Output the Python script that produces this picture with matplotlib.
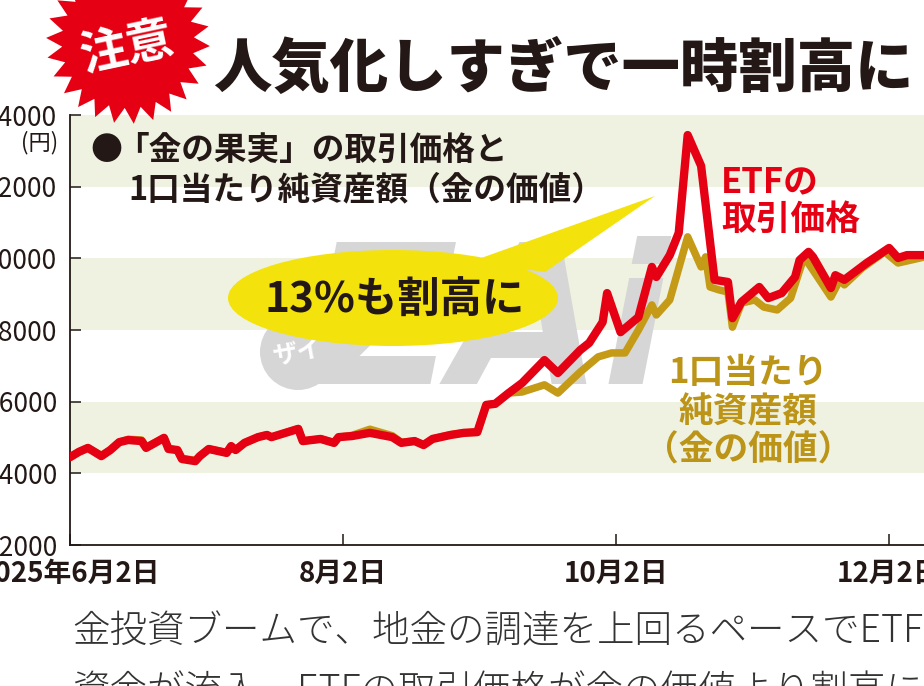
import numpy as np
import matplotlib
matplotlib.use('Agg')
import matplotlib.pyplot as plt
import matplotlib.dates as mdates
from matplotlib.patches import Ellipse, Polygon, Circle

plt.rcParams['font.family'] = ['Noto Sans CJK JP', 'DejaVu Sans']

# ---------------- data ----------------
etf_dates = ['2025-06-02', '2025-06-04', '2025-06-06', '2025-06-09', '2025-06-11', '2025-06-13', '2025-06-15',
             '2025-06-18', '2025-06-19', '2025-06-23', '2025-06-24', '2025-06-26', '2025-06-27', '2025-06-30',
             '2025-07-01', '2025-07-03', '2025-07-07', '2025-07-08', '2025-07-09', '2025-07-11', '2025-07-14',
             '2025-07-16', '2025-07-17', '2025-07-23', '2025-07-24', '2025-07-28', '2025-07-31',
             '2025-08-01', '2025-08-04', '2025-08-08', '2025-08-13', '2025-08-15', '2025-08-18', '2025-08-20',
             '2025-08-22', '2025-08-26', '2025-08-29',
             '2025-09-01', '2025-09-03', '2025-09-05', '2025-09-08', '2025-09-11', '2025-09-16', '2025-09-19',
             '2025-09-24', '2025-09-26', '2025-09-29', '2025-09-30',
             '2025-10-03', '2025-10-07', '2025-10-10', '2025-10-11', '2025-10-14', '2025-10-16', '2025-10-18',
             '2025-10-21', '2025-10-24', '2025-10-27', '2025-10-28', '2025-10-30',
             '2025-11-03', '2025-11-05', '2025-11-08', '2025-11-11', '2025-11-12', '2025-11-14', '2025-11-15',
             '2025-11-19', '2025-11-20', '2025-11-22', '2025-11-27',
             '2025-12-02', '2025-12-04', '2025-12-06', '2025-12-10']
etf_price = [14450, 14600, 14710, 14480, 14650, 14870, 14930, 14900, 14710, 14990, 14680, 14650, 14400, 14340,
             14480, 14680, 14570, 14760, 14650, 14850, 15010, 15070, 15010, 15240, 14900, 14960, 14850,
             15010, 15040, 15130, 15010, 14850, 14900, 14790, 14960, 15070, 15130,
             15150, 15910, 15940, 16240, 16520, 17160, 16800, 17440, 17640, 18220, 19030,
             17940, 18360, 19760, 19480, 20090, 20710, 23440, 22580, 19400, 19340, 18330, 18780,
             19200, 18890, 19030, 19480, 19950, 20180, 20040, 19170, 19530, 19400, 19870,
             20290, 20010, 20090, 20090]

nav_dates = ['2025-06-02', '2025-06-04', '2025-06-06', '2025-06-09', '2025-06-11', '2025-06-13', '2025-06-15',
             '2025-06-18', '2025-06-19', '2025-06-23', '2025-06-24', '2025-06-26', '2025-06-27', '2025-06-30',
             '2025-07-01', '2025-07-03', '2025-07-07', '2025-07-08', '2025-07-09', '2025-07-11', '2025-07-14',
             '2025-07-16', '2025-07-17', '2025-07-23', '2025-07-24', '2025-07-28', '2025-07-31',
             '2025-08-01', '2025-08-04', '2025-08-08', '2025-08-13', '2025-08-15', '2025-08-18', '2025-08-20',
             '2025-08-22', '2025-08-26', '2025-08-29',
             '2025-09-01', '2025-09-03', '2025-09-05', '2025-09-08', '2025-09-11', '2025-09-16', '2025-09-19',
             '2025-09-24', '2025-09-28',
             '2025-10-01', '2025-10-04', '2025-10-07', '2025-10-10', '2025-10-11', '2025-10-14', '2025-10-18',
             '2025-10-20', '2025-10-21', '2025-10-22', '2025-10-23', '2025-10-25', '2025-10-27', '2025-10-28',
             '2025-10-30',
             '2025-11-02', '2025-11-04', '2025-11-07', '2025-11-10', '2025-11-13', '2025-11-15', '2025-11-19',
             '2025-11-21', '2025-11-22', '2025-11-26',
             '2025-12-01', '2025-12-04', '2025-12-10']
nav_value = [14450, 14600, 14710, 14500, 14650, 14870, 14950, 14930, 14730, 14990, 14700, 14640, 14420, 14360,
             14480, 14680, 14580, 14760, 14650, 14850, 15010, 15080, 15010, 15250, 14900, 14960, 14850,
             15010, 15060, 15230, 15050, 14870, 14900, 14800, 14960, 15080, 15130,
             15150, 15910, 15940, 16240, 16270, 16470, 16240, 16830, 17250,
             17360, 17360, 18000, 18700, 18420, 18840, 20600, 20040, 19760, 20040, 19200, 19120, 19060, 18080,
             18750,
             18840, 18640, 18560, 18890, 20040, 19670, 18920, 19400, 19260, 19730,
             20180, 19870, 20040]

y_ticks = [12000, 14000, 16000, 18000, 20000, 22000, 24000]
y_tick_labels = ['12000', '14000', '16000', '18000', '20000', '22000', '24000']
x_tick_dates = ['2025-06-02', '2025-08-02', '2025-10-02', '2025-12-02']
x_tick_labels = ['2025年6月2日', '8月2日', '10月2日', '12月2日']
band_ranges = [(14000, 16000), (18000, 20000), (22000, 24000)]

title = '人気化しすぎで一時割高に'
badge = '注意'
subtitle_1 = '●「金の果実」の取引価格と'
subtitle_2 = '1口当たり純資産額（金の価値）'
callout = '13%も割高に'
etf_label = ['ETFの', '取引価格']
nav_label = ['1口当たり', '純資産額', '（金の価値）']
caption_1 = '金投資ブームで、地金の調達を上回るペースでETF'
caption_2 = '資金が流入。ETFの取引価格が金の価値より割高に'

# ---------------- style ----------------
RED = '#e50013'
GOLD = '#c49a16'
GOLD_TXT = '#bb9418'
BAND = '#eff2e1'
INK = '#231815'

W, H = 924, 686
fig = plt.figure(figsize=(W / 100, H / 100), dpi=100)
fig.patch.set_facecolor('white')

L, B, T = 70, 545, 115
ax = fig.add_axes([L / W, (H - B) / H, 1 - L / W, (B - T) / H])
ax.set_facecolor('none')

# overlay in pixel coordinates (decorations)
ov = fig.add_axes([0, 0, 1, 1])
ov.set_xlim(0, W)
ov.set_ylim(H, 0)
ov.axis('off')
ov.set_zorder(5)

# bands
for lo, hi in band_ranges:
    ax.axhspan(lo, hi, color=BAND, zorder=0.5, lw=0)

# watermark (behind lines)
ax.text(490, 330, 'ZAi', transform=ov.transData, fontsize=140, fontweight='bold', style='italic',
        family='DejaVu Sans', color='#d6d6d6', ha='center', va='center', zorder=1)
ax.add_patch(Circle((298, 352), 38, transform=ov.transData, color='#d6d6d6', zorder=1, lw=0))
ax.text(298, 352, 'ザイ', transform=ov.transData, fontsize=18, fontweight='bold', color='white',
        ha='center', va='center', rotation=10, zorder=1.1)

ed = np.array(etf_dates, dtype='datetime64[D]')
nd = np.array(nav_dates, dtype='datetime64[D]')
ax.plot(nd, nav_value, color=GOLD, lw=5.4, solid_joinstyle='round', solid_capstyle='round', zorder=3)
ax.plot(ed, etf_price, color=RED, lw=6.0, solid_joinstyle='round', solid_capstyle='round', zorder=4)

x0 = mdates.date2num(np.datetime64('2025-06-02'))
ax.set_xlim(x0, x0 + 190.8)
ax.set_ylim(12000, 24000)

ax.set_yticks(y_ticks)
ax.set_yticklabels(y_tick_labels, fontsize=19, color=INK)
ax.set_xticks(np.array(x_tick_dates, dtype='datetime64[D]'))
ax.set_xticklabels(x_tick_labels, fontsize=20, fontweight='bold', color=INK)
ax.tick_params(axis='y', direction='in', length=8, width=1.1, pad=9, color=INK)
ax.tick_params(axis='x', direction='in', length=8, width=1.1, pad=11, color=INK)
for s in ['top', 'right']:
    ax.spines[s].set_visible(False)
for s in ['left', 'bottom']:
    ax.spines[s].set_linewidth(1.3)
    ax.spines[s].set_color(INK)

# unit
ov.text(58, 143, '(円)', fontsize=16, color=INK, ha='right', va='center')

# starburst badge
n = 26
ang = np.linspace(0, 2 * np.pi, 2 * n, endpoint=False) + 0.05
rad = np.where(np.arange(2 * n) % 2 == 0, 82, 66)
pts = np.column_stack([128 + rad * np.cos(ang), 42 + rad * np.sin(ang)])
ov.add_patch(Polygon(pts, closed=True, color='#e50013', lw=0, zorder=2))
ov.text(127, 48, badge, fontsize=34, fontweight='bold', color='white', ha='center', va='center',
        rotation=12, zorder=3)

# title
ov.text(563, 70, title, fontsize=42, fontweight='black', color=INK, ha='center', va='center')

# subtitle
ov.text(90, 150, '●', fontsize=23, fontweight='bold', color=INK, ha='left', va='center')
ov.text(116, 150, subtitle_1[1:], fontsize=23.5, fontweight='bold', color=INK, ha='left', va='center')
ov.text(128, 190, subtitle_2, fontsize=23.5, fontweight='bold', color=INK, ha='left', va='center')

# callout bubble
ov.add_patch(Polygon([(470, 262), (655, 196), (545, 272)], closed=True, color='#f4e20c', lw=0, zorder=2))
ov.add_patch(Ellipse((393, 298), 330, 96, color='#f4e20c', lw=0, zorder=2))
ov.text(395, 301, callout, fontsize=30.5, fontweight='bold', color=INK, ha='center', va='center', zorder=3)

# series labels
ov.text(721, 182, etf_label[0], fontsize=25, fontweight='bold', color=RED, ha='left', va='center')
ov.text(721, 219, etf_label[1], fontsize=25, fontweight='bold', color=RED, ha='left', va='center')
ov.text(748, 373, nav_label[0], fontsize=25, fontweight='bold', color=GOLD_TXT, ha='center', va='center')
ov.text(748, 412, nav_label[1], fontsize=25, fontweight='bold', color=GOLD_TXT, ha='center', va='center')
ov.text(748, 450, nav_label[2], fontsize=25, fontweight='bold', color=GOLD_TXT, ha='center', va='center')

# caption
ov.text(72, 632, caption_1, fontsize=27, fontweight='light', color='#333333', ha='left', va='center')
ov.text(72, 692, caption_2, fontsize=27, fontweight='light', color='#333333', ha='left', va='center')

fig.savefig('out.png', dpi=100)
